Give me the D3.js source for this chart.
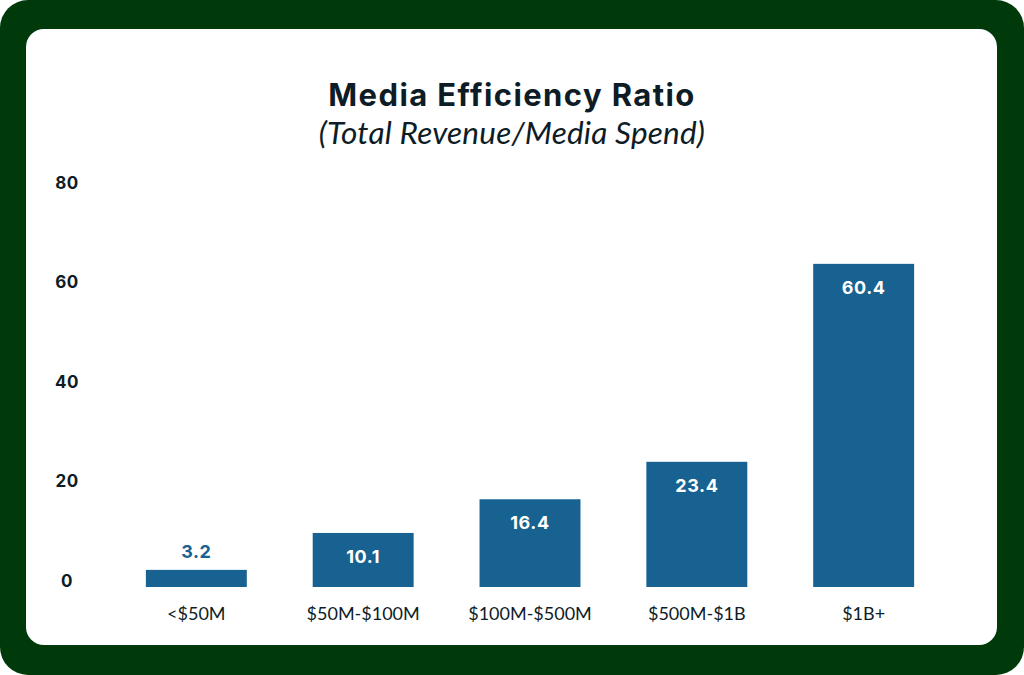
<!DOCTYPE html>
<html>
<head>
<meta charset="utf-8">
<script src="https://cdn.jsdelivr.net/npm/d3@7"></script>
<style>
  html, body { margin: 0; padding: 0; background: #ffffff; }
  svg { display: block; }
</style>
</head>
<body>
<div id="chart"></div>
<script>
const categories = ['<$50M', '$50M-$100M', '$100M-$500M', '$500M-$1B', '$1B+'];
const values = [3.2, 10.1, 16.4, 23.4, 60.4];
const yTicks = [0, 20, 40, 60, 80];

const width = 1024, height = 675;
const barColor = '#176291';
const textColor = '#0e1c26';

const svg = d3.select('#chart')
  .append('svg')
  .attr('width', width)
  .attr('height', height);

// green frame + white card
svg.append('rect')
  .attr('x', 0).attr('y', 0)
  .attr('width', width).attr('height', height)
  .attr('rx', 28)
  .attr('fill', '#003a0b');
svg.append('rect')
  .attr('x', 26).attr('y', 29)
  .attr('width', 971).attr('height', 616)
  .attr('rx', 18)
  .attr('fill', '#ffffff');

svg.append('text')
  .attr('x', 512).attr('y', 106)
  .attr('text-anchor', 'middle')
  .style('font-family', 'Inter, "Noto Sans", sans-serif')
  .style('font-weight', 700)
  .style('font-size', '31px')
  .style('letter-spacing', '1.4px')
  .style('fill', textColor)
  .text('Media Efficiency Ratio');

svg.append('text')
  .attr('x', 512).attr('y', 144)
  .attr('text-anchor', 'middle')
  .style('font-family', 'Lato, sans-serif')
  .style('font-style', 'italic')
  .style('font-size', '31.5px')
  .style('letter-spacing', '0.2px')
  .style('fill', textColor)
  .text('(Total Revenue/Media Spend)');

const xScale = d3.scaleBand()
  .domain(categories)
  .range([112.5, 947.5])
  .paddingInner(0.395)
  .paddingOuter(0.2);

// the axis labels in the source don't line up exactly with the bar heights,
// so the tick labels get their own scale
const yAxisScale = d3.scaleLinear().domain([0, 80]).range([587, 189]);
const yScale = d3.scaleLinear().domain([0, 80]).range([587, 159]);

const yAxis = d3.axisLeft(yAxisScale).tickValues(yTicks).tickSize(0).tickPadding(0);
const gy = svg.append('g')
  .attr('transform', 'translate(67, 0)')
  .call(yAxis);
gy.select('.domain').remove();
gy.selectAll('text')
  .attr('text-anchor', 'middle')
  .attr('dy', '0.32em')
  .attr('y', -6)
  .style('font-family', 'Inter, "Noto Sans", sans-serif')
  .style('font-weight', 700)
  .style('font-size', '17px')
  .style('letter-spacing', '0.5px')
  .style('fill', textColor);

const xAxis = d3.axisBottom(xScale).tickSize(0).tickPadding(0);
const gx = svg.append('g')
  .attr('transform', 'translate(0, 587)')
  .call(xAxis);
gx.select('.domain').remove();
gx.selectAll('text')
  .attr('y', 33)
  .attr('dy', 0)
  .style('font-family', 'Lato, sans-serif')
  .style('font-size', '18px')
  .style('fill', textColor);

svg.selectAll('rect.bar')
  .data(values)
  .enter()
  .append('rect')
  .attr('class', 'bar')
  .attr('x', (d, i) => xScale(categories[i]))
  .attr('y', d => yScale(d))
  .attr('width', xScale.bandwidth())
  .attr('height', d => yScale(0) - yScale(d))
  .attr('fill', barColor);

svg.selectAll('text.val')
  .data(values)
  .enter()
  .append('text')
  .attr('class', 'val')
  .attr('x', (d, i) => xScale(categories[i]) + xScale.bandwidth() / 2)
  .attr('y', d => d < 5 ? yScale(d) - 12 : yScale(d) + 30)
  .attr('text-anchor', 'middle')
  .style('font-family', 'Inter, "Noto Sans", sans-serif')
  .style('font-weight', 700)
  .style('font-size', '18px')
  .style('letter-spacing', '0.6px')
  .style('fill', d => d < 5 ? barColor : '#ffffff')
  .text(d => d.toFixed(1));
</script>
</body>
</html>
